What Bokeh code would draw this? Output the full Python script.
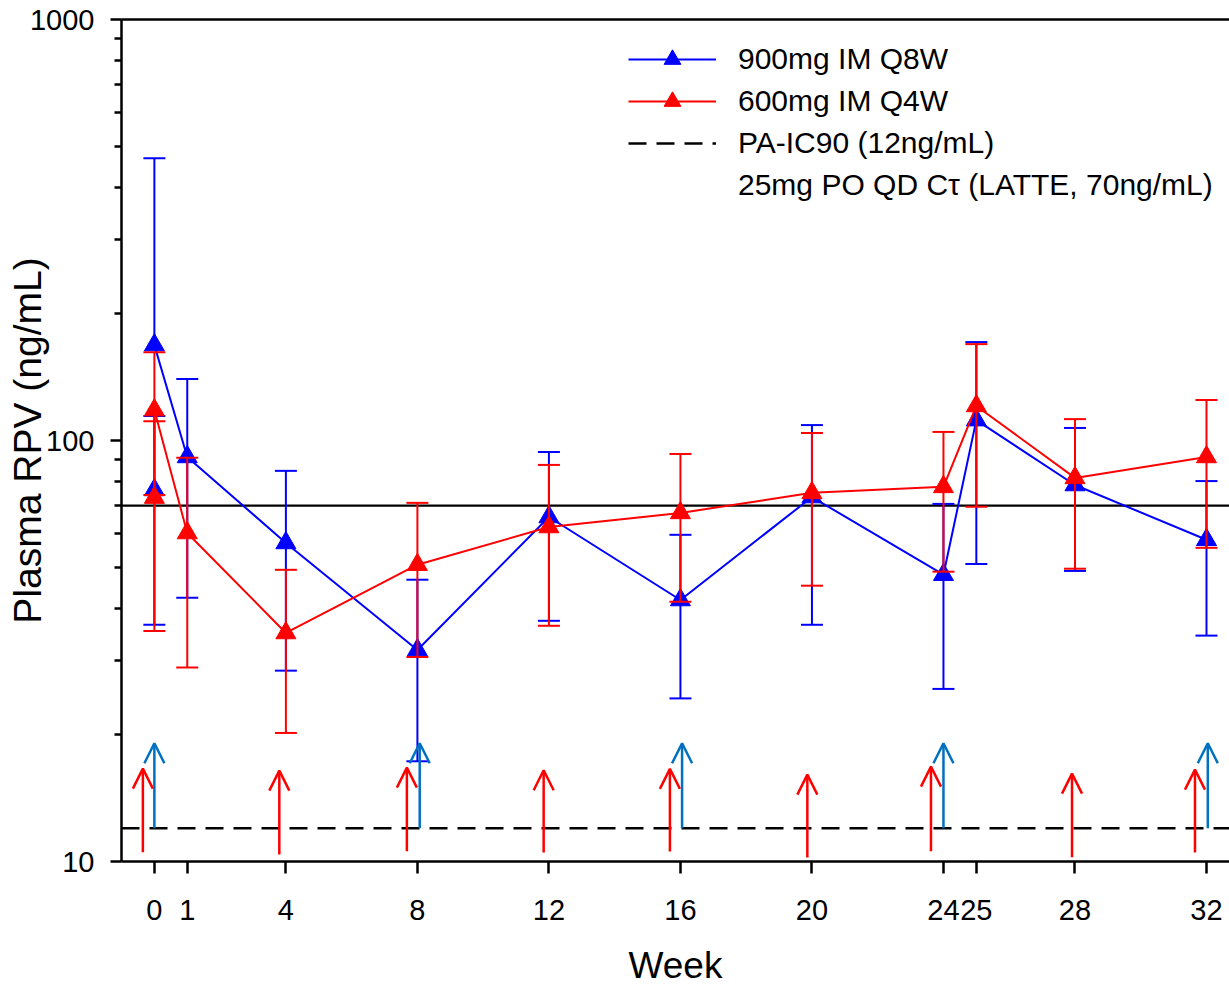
import numpy as np
from bokeh.plotting import figure
from bokeh.models import (ColumnDataSource, Range1d, FixedTicker, NumeralTickFormatter,
                          LinearAxis, Arrow, OpenHead, Legend, LegendItem)
from bokeh.embed import file_html
from bokeh.resources import INLINE

# ---------------- data ----------------
weeks = [0, 1, 4, 8, 12, 16, 20, 24, 25, 28, 32]

q8w_mean = [168.5, 91.4, 57.1, 31.8, 65.8, 41.8, 73.4, 48.0, 111.8, 78.4, 58.1]
q8w_lo = [None, 42.3, 28.4, 17.3, 37.3, 24.4, 36.5, 25.7, 50.9, 49.0, 34.4]
q8w_hi = [467.9, 139.9, 84.7, 46.7, 93.9, 59.7, 108.8, 70.7, 171.3, 107.1, 80.1]

q4w_mean = [118.1, 60.3, 34.9, 50.7, 62.3, 67.3, 75.1, 77.6, 120.8, 81.5, 91.4]
q4w_lo = [74.2, 28.9, 20.2, 30.6, 36.3, 41.4, 45.2, 48.8, 69.6, 49.6, 55.6]
q4w_hi = [162.0, 91.0, 49.3, 71.1, 87.5, 92.9, 104.2, 104.8, 169.4, 112.4, 124.8]

# oral lead-in values at week 0 (not connected)
lead_week = [0]
q8w_lead_mean = [76.3]
q8w_lead_lo = [36.5]
q8w_lead_hi = [114.3]
q4w_lead_mean = [73.2]
q4w_lead_lo = [35.3]
q4w_lead_hi = [111.1]

ic90 = 12
latte_ctau = 70

# dosing arrows
q4w_dose_weeks = [-0.35, 3.8, 7.68, 11.84, 15.68, 19.86, 23.62, 27.91, 31.65]
q4w_arrow_lo = [10.52, 10.39, 10.58, 10.5, 10.56, 10.22, 10.58, 10.24, 10.5]
q4w_arrow_hi = [16.62, 16.44, 16.71, 16.47, 16.6, 16.08, 16.8, 16.17, 16.53]
q8w_dose_weeks = [0, 8.07, 16.05, 24.0, 32.04]
q8w_arrow_lo = [12, 12, 12, 12, 12]
q8w_arrow_hi = [19.1, 19.1, 19.1, 19.1, 19.1]

tick_weeks = [0, 1, 4, 8, 12, 16, 20, 24, 25, 28, 32]
y_major = [10, 100, 1000]
y_minor = [20, 30, 40, 50, 60, 70, 80, 90, 200, 300, 400, 500, 600, 700, 800, 900]

x_start, x_end = -1.0, 32.7
y_start, y_end = 10, 1000

labels = ["900mg IM Q8W", "600mg IM Q4W", "PA-IC90 (12ng/mL)",
          "25mg PO QD C\u03c4 (LATTE, 70ng/mL)"]

FONT = "Liberation Sans"
BLUE = "#0000FF"
RED = "#FF0000"
ARROW_BLUE = "#0070C0"

p = figure(width=1229, height=988, y_axis_type="log",
           x_range=Range1d(x_start, x_end), y_range=Range1d(y_start, y_end),
           output_backend="svg", toolbar_location=None,
           min_border_left=121, min_border_top=19, min_border_right=0,
           min_border_bottom=126)
p.xgrid.visible = False
p.ygrid.visible = False
p.outline_line_color = None
p.background_fill_color = "white"
p.border_fill_color = "white"

# axes
xa = p.xaxis[0]
xa.ticker = FixedTicker(ticks=tick_weeks)
xa.minor_tick_line_color = None
xa.major_tick_out = 12
xa.major_tick_in = 0
xa.major_tick_line_width = 2.5
xa.axis_line_width = 2.5
xa.major_label_text_font = FONT
xa.major_label_text_font_size = "29px"
xa.major_label_text_color = "black"
xa.major_label_standoff = 26
xa.axis_label = "Week"
xa.axis_label_text_font = FONT
xa.axis_label_text_font_size = "37px"
xa.axis_label_text_font_style = "normal"
xa.axis_label_text_color = "black"
xa.axis_label_standoff = 22

ya = p.yaxis[0]
ya.ticker = FixedTicker(ticks=y_major, minor_ticks=y_minor)
ya.formatter = NumeralTickFormatter(format="0")
ya.major_tick_out = 11
ya.major_tick_in = 0
ya.minor_tick_out = 7
ya.minor_tick_in = 0
ya.major_tick_line_width = 2.5
ya.minor_tick_line_width = 2.5
ya.axis_line_width = 2.5
ya.major_label_text_font = FONT
ya.major_label_text_font_size = "29px"
ya.major_label_text_color = "black"
ya.major_label_standoff = 16
ya.axis_label = "Plasma RPV (ng/mL)"
ya.axis_label_text_font = FONT
ya.axis_label_text_font_size = "39px"
ya.axis_label_text_font_style = "normal"
ya.axis_label_text_color = "black"
ya.axis_label_standoff = -22

top = LinearAxis(ticker=FixedTicker(ticks=[]), major_tick_line_color=None,
                 minor_tick_line_color=None, major_label_standoff=0,
                 axis_line_width=2.5, axis_line_color="black")
p.add_layout(top, "above")

# reference lines
latte_line = p.line([x_start, x_end], [latte_ctau, latte_ctau], line_color="black",
                    line_width=2.3)
latte_legend = p.line([x_start, x_end], [latte_ctau, latte_ctau], line_alpha=0)
ic90_line = p.line([x_start, x_end], [ic90, ic90], line_color="black", line_width=2.5,
                   line_dash="18 10")


def errbars(x, mean, lo, hi, color):
    x = np.asarray(x, dtype=float)
    mean = np.asarray(mean, dtype=float)
    lo = np.array([np.nan if v is None else v for v in lo], dtype=float)
    hi = np.asarray(hi, dtype=float)
    bottom = np.where(np.isnan(lo), mean, lo)
    p.segment(x0=x, y0=bottom, x1=x, y1=hi, line_color=color, line_width=2)
    cx = np.concatenate([x, x[~np.isnan(lo)]])
    cy = np.concatenate([hi, lo[~np.isnan(lo)]])
    p.scatter(x=cx, y=cy, marker="dash", size=22, line_color=color, line_width=2)


# 900mg Q8W (blue)
errbars(weeks, q8w_mean, q8w_lo, q8w_hi, BLUE)
errbars(lead_week, q8w_lead_mean, q8w_lead_lo, q8w_lead_hi, BLUE)
b_line = p.line(weeks, q8w_mean, line_color=BLUE, line_width=2)
b_pts = p.scatter(weeks, q8w_mean, marker="triangle", size=20, color=BLUE)
p.scatter(lead_week, q8w_lead_mean, marker="triangle", size=20, color=BLUE)

# 600mg Q4W (red)
errbars(weeks, q4w_mean, q4w_lo, q4w_hi, RED)
errbars(lead_week, q4w_lead_mean, q4w_lead_lo, q4w_lead_hi, RED)
r_line = p.line(weeks, q4w_mean, line_color=RED, line_width=2)
r_pts = p.scatter(weeks, q4w_mean, marker="triangle", size=20, color=RED)
p.scatter(lead_week, q4w_lead_mean, marker="triangle", size=20, color=RED)

# dosing arrows
red_src = ColumnDataSource(dict(x=q4w_dose_weeks, y0=q4w_arrow_lo, y1=q4w_arrow_hi))
p.add_layout(Arrow(x_start="x", y_start="y0", x_end="x", y_end="y1", source=red_src,
                   line_color=RED, line_width=2.5,
                   end=OpenHead(size=20, line_color=RED, line_width=2.5)))
blue_src = ColumnDataSource(dict(x=q8w_dose_weeks, y0=q8w_arrow_lo, y1=q8w_arrow_hi))
p.add_layout(Arrow(x_start="x", y_start="y0", x_end="x", y_end="y1", source=blue_src,
                   line_color=ARROW_BLUE, line_width=2.5,
                   end=OpenHead(size=20, line_color=ARROW_BLUE, line_width=2.5)))

legend = Legend(items=[LegendItem(label=labels[0], renderers=[b_line, b_pts]),
                       LegendItem(label=labels[1], renderers=[r_line, r_pts]),
                       LegendItem(label=labels[2], renderers=[ic90_line]),
                       LegendItem(label=labels[3], renderers=[latte_legend])],
                location=(507, 655), glyph_width=88, glyph_height=42, label_height=42,
                label_standoff=22, spacing=0, padding=0, margin=0,
                border_line_color=None, background_fill_alpha=0,
                label_text_font=FONT, label_text_font_size="30px",
                label_text_color="black")
p.add_layout(legend)

open("out.html", "w").write(file_html(p, INLINE))
